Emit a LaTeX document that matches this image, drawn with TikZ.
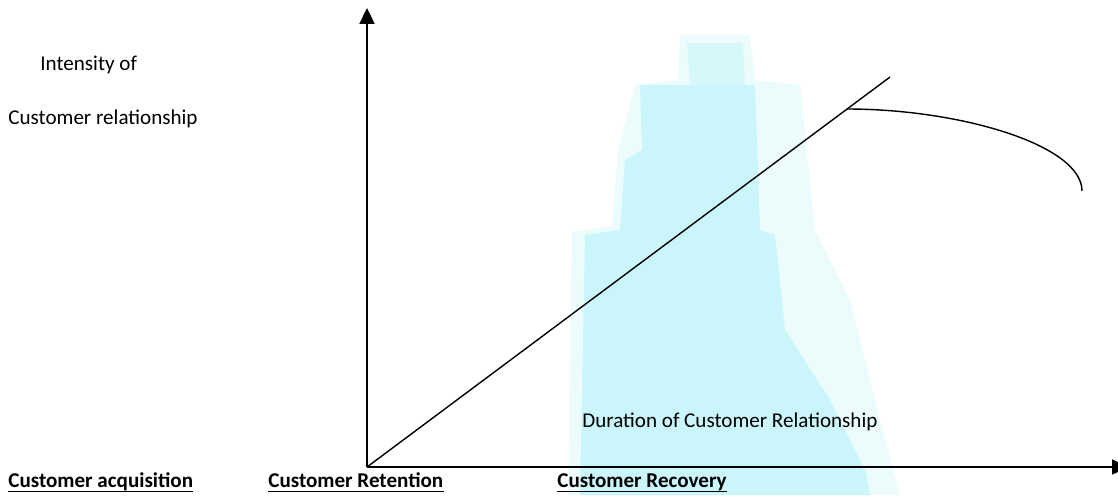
\documentclass[tikz,border=0pt]{standalone}
\usepackage{fontspec}
\setmainfont{Carlito}
\usetikzlibrary{arrows.meta}
\definecolor{wmcyan}{RGB}{202,245,250}
\definecolor{wmpale}{RGB}{236,252,252}
\tikzset{
  axis/.style={line width=1.1pt,-{Triangle[width=8.5pt,length=9pt]}},
  growth/.style={line width=0.8pt},
  decline/.style={line width=0.8pt},
  txt/.style={font=\fontsize{12}{14}\selectfont,inner sep=0pt,anchor=base west},
  phase/.style={txt,font=\fontsize{12}{14}\selectfont\bfseries},
  ul/.style={line width=0.6pt}
}

\begin{document}
\begin{tikzpicture}[x=0.02cm,y=-0.02cm]
  \useasboundingbox (0,0) rectangle (1118,495);
  % faint backdrop
  \fill[wmpale] (680,35) -- (750,35) -- (755,80) -- (800,85) -- (815,230) -- (850,300)
    -- (880,420) -- (900,495) -- (568,495) -- (572,232) -- (612,226) -- (618,150)
    -- (635,85) -- (678,80) -- cycle;
  \fill[wmcyan!60!wmpale] (687,43) -- (743,43) -- (745,85) -- (690,85) -- cycle;
  \fill[wmcyan] (640,85) -- (755,85) -- (760,230) -- (775,235) -- (785,330) -- (830,400)
    -- (865,470) -- (870,495) -- (580,495) -- (585,235) -- (620,230) -- (625,160)
    -- (642,150) -- cycle;

  % Axes
  \coordinate (O) at (367,467);
  \coordinate (ytop) at (367,8);
  \coordinate (xend) at (1128,467);
  \draw[axis] (O) -- (ytop);
  \draw[axis] (O) -- (xend);

  % Relationship line and decline
  \coordinate (peak) at (890,77);
  \coordinate (turn) at (847,109);
  \coordinate (fall) at (1082,191);
  \draw[growth] (O) -- (peak);
  \draw[decline] (turn) .. controls (960,109) and (1082,145) .. (fall);

  % Axis titles
  \node[txt] (ylbl1) at (40,70) {Intensity of};
  \node[txt] (ylbl2) at (8,124) {Customer relationship};
  \node[txt] (xlbl) at (582,427) {Duration of Customer Relationship};

  % Phases
  \node[phase] (acq) at (8,487) {Customer acquisition};
  \node[phase] (ret) at (268,487) {Customer Retention};
  \node[phase] (rec) at (557,487) {Customer Recovery};
  \foreach \p in {acq,ret,rec}
    \draw[ul] ([yshift=-2.8pt]\p.base west) -- ([yshift=-2.8pt]\p.base east);
\end{tikzpicture}
\end{document}
